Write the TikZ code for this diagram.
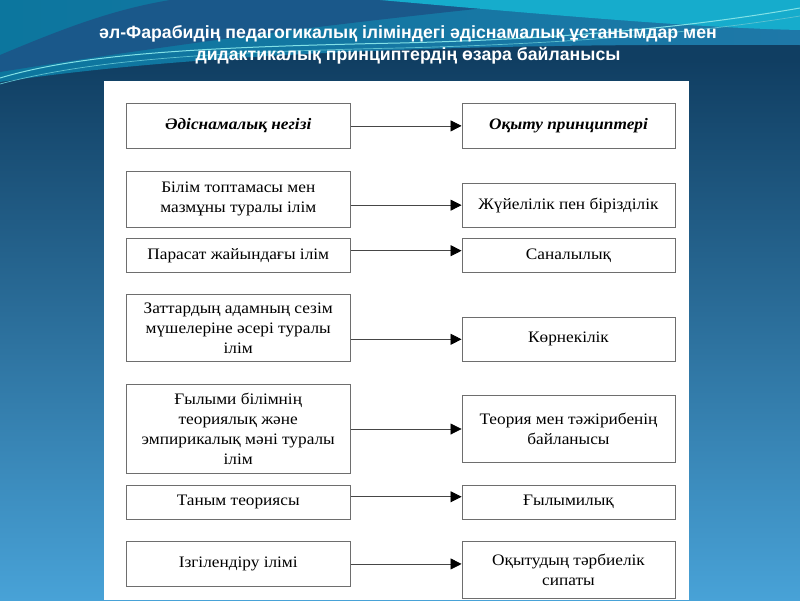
\documentclass[tikz,border=0pt]{standalone}
\usepackage{fontspec}
\setmainfont[FakeStretch=1.08]{Liberation Serif}
\newfontfamily\titlefont{Liberation Sans}
\usetikzlibrary{arrows.meta}
\definecolor{bgtop}{RGB}{16,62,98}
\definecolor{bgbot}{RGB}{72,162,215}
\definecolor{tealA}{RGB}{12,118,158}
\definecolor{tealB}{RGB}{30,120,168}
\definecolor{swoosh}{RGB}{26,88,138}
\definecolor{cyanC}{RGB}{22,172,204}
\definecolor{lineC}{RGB}{130,225,230}
\definecolor{boxline}{RGB}{110,110,110}
\definecolor{arrline}{RGB}{70,70,70}
\tikzset{
  lbox/.style={draw=boxline, line width=0.9pt, fill=white, minimum width=224.5pt, inner sep=0pt, align=center, font=\fontsize{16}{20}\selectfont},
  rbox/.style={draw=boxline, line width=0.9pt, fill=white, minimum width=213pt, inner sep=0pt, align=center, font=\fontsize{16}{20}\selectfont},
  conn/.style={draw=arrline, line width=0.8pt, -{Triangle[length=11pt,width=11pt,black]}},
  titletext/.style={text=white, font=\titlefont\bfseries\fontsize{17.7}{22}\selectfont, align=center}
}
\begin{document}
\begin{tikzpicture}[x=1pt,y=-1pt]
\useasboundingbox (0,0) rectangle (800,600);
% background
\shade[top color=bgtop, bottom color=bgbot] (0,60) rectangle (800,600);
\fill[bgtop] (0,0) rectangle (800,60);
\shade[left color=tealA, right color=tealB] (0,0) -- (800,0) -- (800,45) .. controls (600,44) and (250,45) .. (0,82) -- cycle;
\fill[swoosh] (170,0) -- (560,0) .. controls (420,15) and (250,32) .. (0,72) -- (0,55) .. controls (60,30) and (110,10) .. (170,0) -- cycle;
\fill[cyanC] (380,0) -- (800,0) -- (800,30) .. controls (700,28) and (550,15) .. (380,0) -- cycle;
\draw[lineC, line width=1pt] (0,78) .. controls (80,54) and (200,47) .. (400,43) .. controls (600,38) and (720,22) .. (800,8);
\draw[lineC!70!tealA, line width=0.7pt] (0,84) .. controls (90,60) and (210,52) .. (400,48) .. controls (600,43) and (720,29) .. (800,16);
% title
\node[titletext] (title) at (408,45) {әл-Фарабидің педагогикалық іліміндегі әдіснамалық ұстанымдар мен\\дидактикалық принциптердің өзара байланысы};
% panel
\fill[white] (104,81) rectangle (689,600);
% left boxes
\node[lbox, minimum height=45.2pt, font=\fontsize{16}{20}\selectfont\bfseries\itshape] (L1) at (238.25,125.9) {Әдіснамалық негізі};
\node[lbox, minimum height=55.8pt] (L2) at (238.25,199.4) {Білім топтамасы мен\\мазмұны туралы ілім};
\node[lbox, minimum height=33.2pt] (L3) at (238.25,255.4) {Парасат жайындағы ілім};
\node[lbox, minimum height=66.9pt] (L4) at (238.25,328.15) {Заттардың адамның сезім\\мүшелеріне әсері туралы\\ілім};
\node[lbox, minimum height=89.2pt] (L5) at (238.25,429.2) {Ғылыми білімнің\\теориялық және\\эмпирикалық мәні туралы\\ілім};
\node[lbox, minimum height=33.7pt] (L6) at (238.25,502.15) {Таным теориясы};
\node[lbox, minimum height=44.1pt] (L7) at (238.25,563.95) {Ізгілендіру ілімі};
% right boxes
\node[rbox, minimum height=45.2pt, font=\fontsize{16}{20}\selectfont\bfseries\itshape] (R1) at (568.5,125.9) {Оқыту принциптері};
\node[rbox, minimum height=44.3pt] (R2) at (568.5,205.15) {Жүйелілік пен бірізділік};
\node[rbox, minimum height=33.2pt] (R3) at (568.5,255.4) {Саналылық};
\node[rbox, minimum height=44.6pt] (R4) at (568.5,339.3) {Көрнекілік};
\node[rbox, minimum height=66.6pt] (R5) at (568.5,429) {Теория мен тәжірибенің\\байланысы};
\node[rbox, minimum height=33.7pt] (R6) at (568.5,502.15) {Ғылымилық};
\node[rbox, minimum height=56.1pt] (R7) at (568.5,569.95) {Оқытудың тәрбиелік\\сипаты};
% connectors
\draw[conn] (L1.east) -- (R1.west);
\draw[conn] (L2.east |- R2.west) -- (R2.west);
\draw[conn] ([yshift=4.7pt]L3.east) -- ([yshift=4.7pt]R3.west);
\draw[conn] (L4.east |- R4.west) -- (R4.west);
\draw[conn] (L5.east |- R5.west) -- (R5.west);
\draw[conn] ([yshift=5.4pt]L6.east) -- ([yshift=5.4pt]R6.west);
\draw[conn] (L7.east) -- (R7.west |- L7.east);
\end{tikzpicture}
\end{document}
